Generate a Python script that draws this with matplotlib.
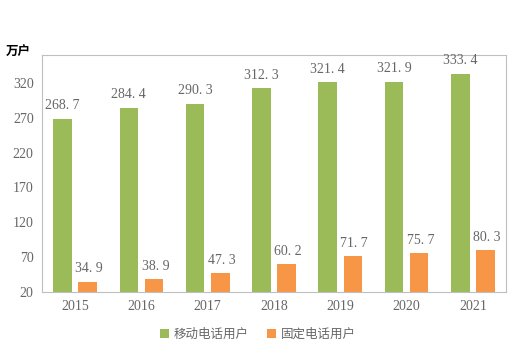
import numpy as np
import matplotlib
matplotlib.use('Agg')
import matplotlib.pyplot as plt

plt.rcParams['font.family'] = ['Liberation Serif', 'Noto Sans CJK SC']

years = ['2015', '2016', '2017', '2018', '2019', '2020', '2021']
mobile = [268.7, 284.4, 290.3, 312.3, 321.4, 321.9, 333.4]
fixed = [34.9, 38.9, 47.3, 60.2, 71.7, 75.7, 80.3]
yticks = [20, 70, 120, 170, 220, 270, 320]

green = '#9BBB59'
orange = '#F79646'
grey = '#666666'

fig = plt.figure(figsize=(5.22, 3.56), dpi=100)
ax = fig.add_axes([42 / 522, 1 - 292 / 356, 464 / 522, 237 / 356])

x = np.arange(len(years))
w = 0.28
bars1 = ax.bar(x - 0.19, mobile, w, bottom=0, color=green, label='移动电话用户')
bars2 = ax.bar(x + 0.19, fixed, w, bottom=0, color=orange, label='固定电话用户')

for b, v in zip(bars1, mobile):
    ax.text(b.get_x() + b.get_width() / 2, v + 9, f'{v:.1f}'.replace('.', '. '),
            ha='center', va='bottom', fontsize=10, color=grey)
for b, v in zip(bars2, fixed):
    ax.text(b.get_x() + b.get_width() / 2 + 0.02, v + 9, f'{v:.1f}'.replace('.', '. '),
            ha='center', va='bottom', fontsize=10, color=grey)

ax.set_xlim(-0.5, len(years) - 0.5)
ax.set_ylim(20, 360)
ax.set_yticks(yticks)
ax.set_xticks(x)
ax.set_xticklabels(years)
ax.tick_params(length=0, labelsize=10, colors=grey, pad=6)
for s in ax.spines.values():
    s.set_color('#BFBFBF')
    s.set_linewidth(0.8)

fig.text(6 / 522, 1 - 52 / 356, '万户', fontsize=9, fontweight='bold',
         family='Noto Sans CJK SC', va='center', ha='left')

leg = fig.legend(handles=[bars1, bars2], loc='center', bbox_to_anchor=(258 / 522, 1 - 334 / 356),
                 ncol=2, frameon=False, handlelength=0.7, handleheight=0.7,
                 handletextpad=0.4, columnspacing=1.5,
                 prop={'family': 'Noto Sans CJK SC', 'size': 9})
for t in leg.get_texts():
    t.set_color(grey)

fig.savefig('out.png', dpi=100)
